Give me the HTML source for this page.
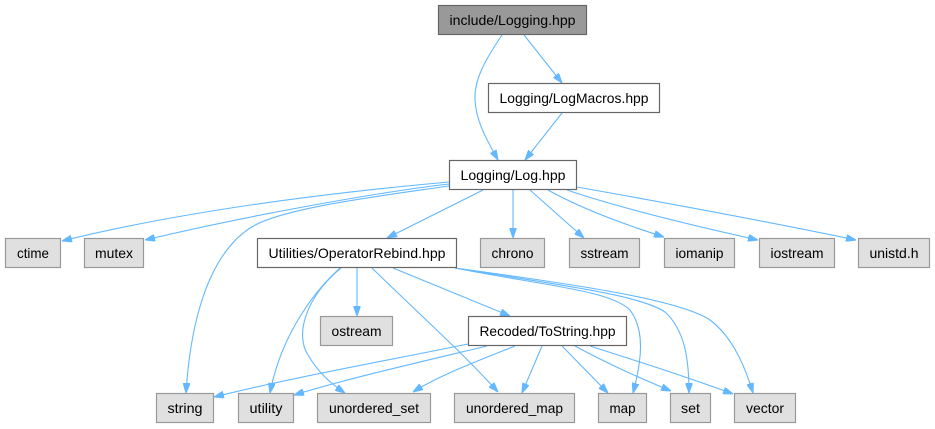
<!DOCTYPE html>
<html><head><meta charset="utf-8"><style>
html,body{margin:0;padding:0;background:#fff;}
svg{display:block;}
text{font-family:"Liberation Sans",sans-serif;font-size:14px;fill:#000;}
</style></head><body>
<svg width="935" height="429" viewBox="0 0 935 429" xmlns="http://www.w3.org/2000/svg">
<defs>
<marker id="a" viewBox="0 0 10 7" refX="10" refY="3.5" markerWidth="10" markerHeight="7" markerUnits="userSpaceOnUse" orient="auto">
<path d="M0,0 L10,3.5 L0,7 z" fill="#63b8ff" stroke="#63b8ff" stroke-width="1"/>
</marker>
</defs>
<g fill="none" stroke="#63b8ff" stroke-width="1.1" marker-end="url(#a)">
<path d="M502,35 C485,60 474,80 475,100 C476,122 488,142 498,160"/>
<path d="M524,35 L562,83"/>
<path d="M562,113 L525,160"/>
<path d="M449,182 C360,190 200,207 62,241"/>
<path d="M449,184 C380,192 250,215 145,240"/>
<path d="M449,186 C380,196 280,208 250,228 C205,258 190,330 186,393"/>
<path d="M483,190 L387,238"/>
<path d="M513,190 L513,238"/>
<path d="M530,190 L584,238"/>
<path d="M548,190 C580,208 620,223 664,237"/>
<path d="M567,190 C620,208 690,225 758,240"/>
<path d="M577,187 C650,200 760,220 856,240"/>
<path d="M357,268 L357,316"/>
<path d="M340,268 C310,295 280,340 270,393"/>
<path d="M341,268 C305,298 295,335 308,355 C318,372 330,383 345,393"/>
<path d="M372,268 C420,315 460,350 498,392"/>
<path d="M393,268 L510,316"/>
<path d="M455,268 C540,285 610,290 630,310 C645,330 642,360 633,393"/>
<path d="M455,268 C560,285 640,295 665,312 C685,330 689,360 689,393"/>
<path d="M455,268 C580,285 680,300 710,320 C730,335 743,360 753,393"/>
<path d="M468,344 C380,362 290,378 214,397"/>
<path d="M487,346 C420,362 350,378 294,395"/>
<path d="M515,346 C480,360 440,375 413,392"/>
<path d="M542,346 L522,393"/>
<path d="M562,346 L608,393"/>
<path d="M575,346 C610,365 640,378 671,391"/>
<path d="M590,346 C640,362 690,378 733,394"/>
</g>
<g stroke-width="1.2">
<rect x="438.5" y="5.5" width="148" height="29" fill="#999999" stroke="#666666"/>
<rect x="488.5" y="83.5" width="171" height="29" fill="#ffffff" stroke="#666666"/>
<rect x="449.5" y="160.5" width="127" height="29" fill="#ffffff" stroke="#666666"/>
<rect x="5.5" y="238.5" width="55" height="29" fill="#e0e0e0" stroke="#999999"/>
<rect x="84.5" y="238.5" width="59" height="29" fill="#e0e0e0" stroke="#999999"/>
<rect x="257.5" y="238.5" width="199" height="29" fill="#ffffff" stroke="#666666"/>
<rect x="480.5" y="238.5" width="64" height="29" fill="#e0e0e0" stroke="#999999"/>
<rect x="569.5" y="238.5" width="70" height="29" fill="#e0e0e0" stroke="#999999"/>
<rect x="664.5" y="238.5" width="70" height="29" fill="#e0e0e0" stroke="#999999"/>
<rect x="759.5" y="238.5" width="75" height="29" fill="#e0e0e0" stroke="#999999"/>
<rect x="858.5" y="238.5" width="71" height="29" fill="#e0e0e0" stroke="#999999"/>
<rect x="320.5" y="316.5" width="72" height="29" fill="#e0e0e0" stroke="#999999"/>
<rect x="468.5" y="316.5" width="158" height="29" fill="#ffffff" stroke="#666666"/>
<rect x="156.5" y="393.5" width="57" height="29" fill="#e0e0e0" stroke="#999999"/>
<rect x="238.5" y="393.5" width="55" height="29" fill="#e0e0e0" stroke="#999999"/>
<rect x="317.5" y="393.5" width="113" height="29" fill="#e0e0e0" stroke="#999999"/>
<rect x="454.5" y="393.5" width="120" height="29" fill="#e0e0e0" stroke="#999999"/>
<rect x="598.5" y="393.5" width="48" height="29" fill="#e0e0e0" stroke="#999999"/>
<rect x="670.5" y="393.5" width="40" height="29" fill="#e0e0e0" stroke="#999999"/>
<rect x="734.5" y="393.5" width="61" height="29" fill="#e0e0e0" stroke="#999999"/>
</g>
<g text-anchor="middle">
<text x="512.5" y="25" textLength="126" lengthAdjust="spacingAndGlyphs">include/Logging.hpp</text>
<text x="574" y="103" textLength="149" lengthAdjust="spacingAndGlyphs">Logging/LogMacros.hpp</text>
<text x="513" y="180" textLength="105" lengthAdjust="spacingAndGlyphs">Logging/Log.hpp</text>
<text x="33" y="258" textLength="32" lengthAdjust="spacingAndGlyphs">ctime</text>
<text x="114" y="258" textLength="38" lengthAdjust="spacingAndGlyphs">mutex</text>
<text x="357" y="258" textLength="177" lengthAdjust="spacingAndGlyphs">Utilities/OperatorRebind.hpp</text>
<text x="512.5" y="258" textLength="42" lengthAdjust="spacingAndGlyphs">chrono</text>
<text x="604.5" y="258" textLength="48" lengthAdjust="spacingAndGlyphs">sstream</text>
<text x="699.5" y="258" textLength="48" lengthAdjust="spacingAndGlyphs">iomanip</text>
<text x="797" y="258" textLength="53" lengthAdjust="spacingAndGlyphs">iostream</text>
<text x="894" y="258" textLength="49" lengthAdjust="spacingAndGlyphs">unistd.h</text>
<text x="356.5" y="336" textLength="50" lengthAdjust="spacingAndGlyphs">ostream</text>
<text x="547.5" y="336" textLength="136" lengthAdjust="spacingAndGlyphs">Recoded/ToString.hpp</text>
<text x="185" y="413" textLength="35" lengthAdjust="spacingAndGlyphs">string</text>
<text x="266" y="413" textLength="33" lengthAdjust="spacingAndGlyphs">utility</text>
<text x="374" y="413" textLength="90" lengthAdjust="spacingAndGlyphs">unordered_set</text>
<text x="514.5" y="413" textLength="97" lengthAdjust="spacingAndGlyphs">unordered_map</text>
<text x="622.5" y="413" textLength="26" lengthAdjust="spacingAndGlyphs">map</text>
<text x="690.5" y="413" textLength="19" lengthAdjust="spacingAndGlyphs">set</text>
<text x="765" y="413" textLength="38" lengthAdjust="spacingAndGlyphs">vector</text>
</g>
</svg>
</body></html>
